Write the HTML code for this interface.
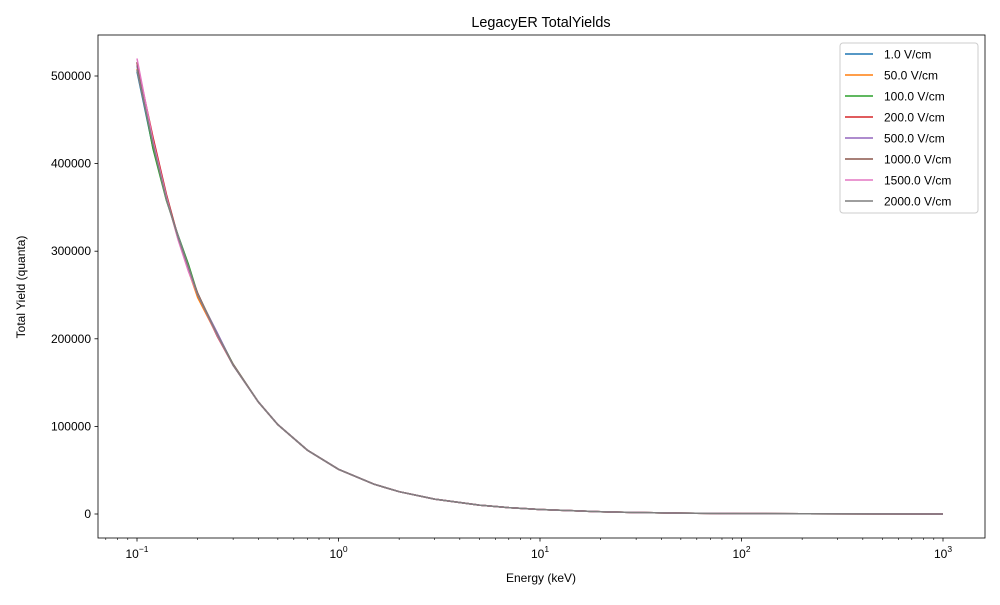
<!DOCTYPE html>
<html><head><meta charset="utf-8"><style>
body{margin:0;background:#fff;}
svg{font-family:"Liberation Sans","DejaVu Sans",sans-serif;}
</style></head><body>
<svg id="chart" width="1000" height="600" xmlns="http://www.w3.org/2000/svg">
<rect width="1000" height="600" fill="#fff"/>
<text x="541" y="27" font-size="14.4" text-anchor="middle">LegacyER TotalYields</text>
<g id="plot"></g>
<rect x="98" y="35" width="887" height="503" fill="none" stroke="#000" stroke-width="0.8"/>
<g id="axes"></g>
<text x="541" y="582" font-size="12" text-anchor="middle">Energy (keV)</text>
<text x="25" y="287" font-size="12" text-anchor="middle" transform="rotate(-90 25 287)">Total Yield (quanta)</text>
<g id="legend"></g>
</svg>
<script>
const energies=[0.1,0.12,0.14,0.16,0.18,0.2,0.25,0.3,0.4,0.5,0.7,1,1.5,2,3,5,7,10,20,30,50,100,200,500,1000];
const base=[510000,420000,360000,315000,280000,250000,204000,170000,128000,102000,73000,51000,34000,25500,17000,10200,7300,5100,2550,1700,1000,510,255,100,50];
const s1=[505000,418000,362000,316000,281000,249000,205000,170000,128000,102000,73000,51000,34000,25500,17000,10200,7300,5100,2550,1700,1000,510,255,100,50];
const s50=[508000,421000,361000,314000,278000,247000,204000,170000,128000,102000,73000,51000,34000,25500,17000,10200,7300,5100,2550,1700,1000,510,255,100,50];
const s100=[512000,417000,358000,318000,285000,251000,206000,171000,128000,102000,73000,51000,34000,25500,17000,10200,7300,5100,2550,1700,1000,510,255,100,50];
const s200=[515000,430000,365000,316000,279000,251000,203000,170000,128000,102000,73000,51000,34000,25500,17000,10200,7300,5100,2550,1700,1000,510,255,100,50];
const s500=[512000,423000,360000,317000,282000,250000,207000,170000,128000,102000,73000,51000,34000,25500,17000,10200,7300,5100,2550,1700,1000,510,255,100,50];
const s1000=[516000,425000,363000,315000,280000,252000,204000,171000,128000,102000,73000,51000,34000,25500,17000,10200,7300,5100,2550,1700,1000,510,255,100,50];
const s1500=[520000,426000,362000,313000,277000,250000,204000,170000,128000,102000,73000,51000,34000,25500,17000,10200,7300,5100,2550,1700,1000,510,255,100,50];
const s2000=[507000,422000,359000,316000,282000,250000,205000,170000,128000,102000,73000,51000,34000,25500,17000,10200,7300,5100,2550,1700,1000,510,255,100,50];
const seriesLabels=["1.0 V/cm","50.0 V/cm","100.0 V/cm","200.0 V/cm","500.0 V/cm","1000.0 V/cm","1500.0 V/cm","2000.0 V/cm"];
const seriesData=[s1,s50,s100,s200,s500,s1000,s1500,s2000];
const colors=["#1f77b4","#ff7f0e","#2ca02c","#d62728","#9467bd","#8c564b","#e377c2","#7f7f7f"];
const yTicks=[0,100000,200000,300000,400000,500000];
const xDecades=[-1,0,1,2,3];

const NS="http://www.w3.org/2000/svg";
function X(e){return 137+(Math.log10(e)+1)*201.5;}
function Y(v){return 514-v*0.000876;}
function mk(t,a,p){const el=document.createElementNS(NS,t);for(const k in a)el.setAttribute(k,a[k]);p.appendChild(el);return el;}
const plot=document.getElementById('plot'),axes=document.getElementById('axes'),legend=document.getElementById('legend');

seriesData.forEach((d,i)=>{
  const pts=d.map((v,j)=>X(energies[j]).toFixed(1)+','+Y(v).toFixed(1)).join(' ');
  const pl=mk('polyline',{points:pts,fill:'none',stroke:colors[i],'stroke-width':1.5},plot);
  
  
});

yTicks.forEach(v=>{
  const y=Y(v);
  const l=mk('line',{x1:94.5,x2:98,y1:y,y2:y,stroke:'#000','stroke-width':0.8},axes);
  
  
  const t=mk('text',{x:91,y:y+4,'font-size':12,'text-anchor':'end'},axes);
  t.textContent=String(v);
  
  
});

for(let d=-2;d<=3;d++){
  for(let m=1;m<10;m++){
    const e=m*Math.pow(10,d);const x=X(e);
    if(x<98||x>985)continue;
    const major=m===1;
    const l=mk('line',{x1:x,x2:x,y1:538,y2:major?541.5:540,stroke:'#000','stroke-width':major?0.8:0.6},axes);
    
    
  }
}
xDecades.forEach(d=>{
  const x=X(Math.pow(10,d));
  const t=mk('text',{x:x,y:558,'font-size':12,'text-anchor':'middle'},axes);
  t.textContent='10';
  const s=mk('tspan',{dy:-6,'font-size':8.5},t);
  s.textContent=String(d).replace('-','\u2212');
  
  
});

const lb=mk('rect',{x:840,y:43,width:138,height:170,rx:3,fill:'#fff','fill-opacity':0.8,stroke:'#ccc','stroke-width':1},legend);


seriesLabels.forEach((s,i)=>{
  const y=54+i*21;
  const g=mk('g',{},legend);
  
  
  mk('line',{x1:845,x2:873,y1:y,y2:y,stroke:colors[i],'stroke-width':1.5},g);
  const t=mk('text',{x:884,y:y+4.5,'font-size':12},g);
  t.textContent=s;
});
</script>
</body></html>
